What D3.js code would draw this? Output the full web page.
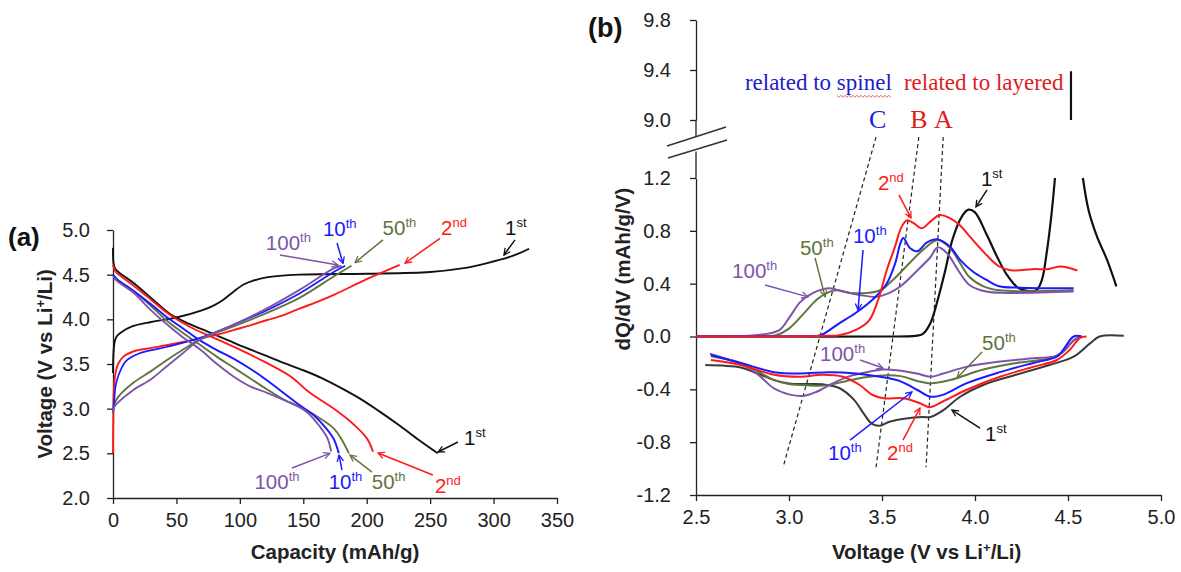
<!DOCTYPE html>
<html>
<head>
<meta charset="utf-8">
<script src="https://cdn.jsdelivr.net/npm/d3@7"></script>
<style>
  body { margin: 0; background: #fff; }
  svg { display: block; }
  text { font-family: "Liberation Sans", Arial, sans-serif; }
</style>
</head>
<body>
<div id="main"></div>
<script>
// ---------- data, panel (a): [capacity mAh/g, voltage V] ----------
var capTicks = [0, 50, 100, 150, 200, 250, 300, 350];
var voltTicks = [2.0, 2.5, 3.0, 3.5, 4.0, 4.5, 5.0];

var charge1 = [[0,3.4],[0.5,3.65],[1.5,3.76],[3,3.81],[6,3.85],[15,3.92],[30,3.97],[50,4.02],[70,4.10],[80,4.16],[87,4.22],[95,4.31],[103,4.39],[110,4.43],[121,4.47],[147,4.50],[200,4.51],[250,4.53],[275,4.57],[295,4.63],[315,4.71],[328,4.79]];
var discharge1 = [[0,4.8],[0.5,4.62],[2,4.56],[8,4.49],[16,4.41],[30,4.24],[45,4.06],[60,3.95],[75,3.86],[90,3.77],[105,3.68],[121,3.59],[135,3.51],[150,3.43],[165,3.34],[180,3.23],[195,3.11],[210,2.97],[225,2.82],[240,2.66],[256,2.5]];
var charge2 = [[0,2.5],[0.3,3.0],[0.8,3.25],[2,3.4],[4,3.5],[8,3.58],[16,3.64],[30,3.68],[42,3.71],[60,3.76],[80,3.82],[95,3.88],[110,3.94],[121,3.99],[135,4.05],[147,4.12],[160,4.19],[175,4.28],[200,4.45],[226,4.61]];
var discharge2 = [[0,4.61],[1,4.56],[3,4.52],[16,4.38],[30,4.22],[42,4.08],[60,3.92],[80,3.79],[100,3.66],[120,3.52],[140,3.36],[155,3.18],[175,2.99],[190,2.82],[200,2.67],[205,2.52]];
var charge10 = [[0,2.95],[1,3.1],[2,3.25],[4,3.36],[10,3.53],[21,3.62],[42,3.69],[68,3.79],[95,3.94],[121,4.10],[147,4.29],[174,4.53],[183,4.6]];
var discharge10 = [[0,4.5],[3,4.45],[16,4.32],[30,4.17],[42,4.03],[55,3.9],[68,3.77],[80,3.67],[95,3.56],[110,3.43],[121,3.32],[135,3.17],[145,3.06],[158,2.93],[168,2.78],[174,2.66],[178,2.5]];
var charge50 = [[0,2.95],[1,3.05],[4,3.13],[16,3.29],[30,3.42],[42,3.54],[55,3.66],[68,3.77],[82,3.85],[95,3.92],[121,4.07],[147,4.24],[174,4.48],[188,4.6]];
var discharge50 = [[0,4.5],[3,4.45],[16,4.32],[30,4.15],[42,3.99],[55,3.85],[68,3.72],[82,3.58],[95,3.46],[108,3.34],[121,3.22],[135,3.1],[147,3.02],[160,2.92],[174,2.78],[180,2.66],[186,2.5]];
var charge100 = [[0,2.95],[1,3.02],[4,3.07],[16,3.21],[30,3.33],[42,3.47],[55,3.62],[68,3.77],[82,3.86],[95,3.94],[121,4.12],[147,4.33],[174,4.57],[180,4.6]];
var discharge100 = [[0,4.48],[3,4.43],[16,4.3],[30,4.1],[42,3.95],[55,3.8],[68,3.67],[82,3.5],[95,3.36],[108,3.25],[121,3.18],[134,3.1],[145,3.03],[153,2.96],[163,2.8],[169,2.67],[172,2.52]];

// ---------- data, panel (b): [voltage V, dQ/dV] ----------
var vTicks = [2.5, 3.0, 3.5, 4.0, 4.5, 5.0];
var dqTicksLow = [-1.2, -0.8, -0.4, 0.0, 0.4, 0.8, 1.2];
var dqTicksTop = [9.0, 9.4, 9.8];

var dq1a = [[2.5,0],[3.0,0],[3.5,0],[3.68,0.005],[3.72,0.02],[3.76,0.1],[3.8,0.28],[3.84,0.5],[3.88,0.74],[3.93,0.91],[3.965,0.96],[4.0,0.94],[4.06,0.78],[4.12,0.6],[4.17,0.47],[4.23,0.37],[4.28,0.345],[4.33,0.35],[4.36,0.43],[4.385,0.63],[4.41,0.91],[4.43,1.2]];
var dq1b = [[4.58,1.2],[4.61,0.96],[4.655,0.76],[4.71,0.58],[4.76,0.38]];
var dq1Top = [[4.516,9.0],[4.516,9.39]];
var dq2 = [[2.5,0],[3.0,0],[3.2,0.005],[3.27,0.01],[3.36,0.05],[3.43,0.12],[3.48,0.28],[3.525,0.5],[3.57,0.68],[3.605,0.83],[3.635,0.88],[3.668,0.86],[3.715,0.82],[3.76,0.87],[3.81,0.92],[3.86,0.9],[3.92,0.84],[3.97,0.76],[4.06,0.62],[4.13,0.53],[4.2,0.5],[4.31,0.51],[4.39,0.51],[4.46,0.53],[4.55,0.5]];
var dq10 = [[2.5,0],[3.0,0],[3.1,0.002],[3.17,0.01],[3.27,0.1],[3.36,0.18],[3.45,0.28],[3.525,0.4],[3.57,0.55],[3.6,0.71],[3.615,0.745],[3.65,0.67],[3.69,0.645],[3.74,0.71],[3.8,0.735],[3.866,0.68],[3.92,0.58],[3.99,0.49],[4.06,0.43],[4.13,0.38],[4.24,0.37],[4.53,0.365]];
var dq50 = [[2.5,0],[2.8,0.002],[2.93,0.01],[3.0,0.06],[3.08,0.175],[3.15,0.28],[3.22,0.34],[3.26,0.35],[3.33,0.33],[3.42,0.33],[3.49,0.35],[3.56,0.43],[3.63,0.53],[3.72,0.655],[3.8,0.73],[3.866,0.67],[3.92,0.555],[3.97,0.45],[4.045,0.38],[4.13,0.35],[4.53,0.35]];
var dq100 = [[2.5,0],[2.75,0.003],[2.88,0.02],[2.95,0.05],[3.005,0.15],[3.06,0.26],[3.13,0.33],[3.22,0.365],[3.29,0.34],[3.38,0.315],[3.47,0.30],[3.54,0.33],[3.6,0.38],[3.69,0.5],[3.76,0.6],[3.8,0.675],[3.85,0.63],[3.91,0.5],[3.97,0.39],[4.06,0.34],[4.17,0.33],[4.53,0.34]];

var dqDis1 = [[2.55,-0.216],[2.74,-0.235],[2.83,-0.28],[2.92,-0.33],[3.0,-0.355],[3.09,-0.36],[3.18,-0.362],[3.27,-0.39],[3.35,-0.48],[3.4,-0.58],[3.445,-0.66],[3.49,-0.675],[3.54,-0.645],[3.63,-0.62],[3.72,-0.61],[3.76,-0.61],[3.83,-0.557],[3.92,-0.456],[4.045,-0.367],[4.22,-0.29],[4.4,-0.216],[4.53,-0.153],[4.62,-0.05],[4.67,0.0],[4.8,0.005]];
var dqDis2 = [[2.58,-0.178],[2.74,-0.216],[2.92,-0.29],[3.06,-0.305],[3.18,-0.29],[3.29,-0.305],[3.38,-0.367],[3.45,-0.443],[3.51,-0.468],[3.615,-0.468],[3.704,-0.505],[3.758,-0.535],[3.83,-0.49],[3.953,-0.405],[4.134,-0.305],[4.313,-0.23],[4.44,-0.178],[4.51,-0.10],[4.565,-0.01],[4.6,0.0]];
var dqDis10 = [[2.58,-0.14],[2.74,-0.2],[2.92,-0.27],[3.06,-0.28],[3.22,-0.27],[3.36,-0.28],[3.49,-0.305],[3.6,-0.34],[3.69,-0.405],[3.76,-0.456],[3.83,-0.44],[3.953,-0.355],[4.134,-0.27],[4.313,-0.2],[4.44,-0.153],[4.475,-0.1],[4.53,0.0],[4.575,0.0]];
var dqDis50 = [[2.58,-0.15],[2.74,-0.2],[2.84,-0.27],[2.92,-0.33],[3.0,-0.36],[3.1,-0.37],[3.2,-0.37],[3.3,-0.34],[3.4,-0.31],[3.5,-0.295],[3.6,-0.3],[3.7,-0.34],[3.76,-0.355],[3.866,-0.33],[4.045,-0.25],[4.224,-0.2],[4.4,-0.165],[4.47,-0.12],[4.53,-0.03],[4.57,0.0]];
var dqDis100 = [[2.575,-0.13],[2.683,-0.18],[2.773,-0.23],[2.844,-0.30],[2.916,-0.39],[3.005,-0.44],[3.077,-0.45],[3.146,-0.42],[3.235,-0.355],[3.327,-0.30],[3.418,-0.27],[3.507,-0.25],[3.58,-0.255],[3.687,-0.28],[3.76,-0.305],[3.83,-0.28],[3.953,-0.23],[4.134,-0.19],[4.313,-0.165],[4.44,-0.148],[4.484,-0.1],[4.53,-0.03],[4.565,0.0]];

// dashed guide lines C, B, A: [top point, bottom point]
var guideC = [[3.468,1.51],[2.968,-0.99]];
var guideB = [[3.698,1.51],[3.468,-0.99]];
var guideA = [[3.829,1.51],[3.737,-0.99]];

// cycle labels: [number, suffix, colour key, text pos, arrow from, arrow to]
var labelsA = [
  ["100","th","p",[120.5,4.776],[131.6,4.72],[177.4,4.608]],
  ["10","th","b",[165.5,4.93],[176.6,4.855],[181.3,4.625]],
  ["50","th","g",[212.5,4.944],[212.8,4.89],[190.8,4.635]],
  ["2","nd","r",[258.6,4.944],[257.8,4.905],[230.2,4.63]],
  ["1","st","k",[309,4.944],[316.9,4.89],[308.2,4.72]],
  ["100","th","p",[111.5,2.10],[141.1,2.336],[171,2.5]],
  ["10","th","b",[170,2.10],[180.5,2.313],[178.2,2.48]],
  ["50","th","g",[204,2.10],[204.2,2.29],[186.8,2.48]],
  ["2","nd","r",[253.8,2.056],[252.2,2.257],[208.9,2.504]],
  ["1","st","k",[276.7,2.593],[271.9,2.627],[256.2,2.515]]
];
var labelsB = [
  ["2","nd","r",[3.478,1.11],[3.591,1.072],[3.656,0.898]],
  ["1","st","k",[4.032,1.14],[4.065,1.11],[4.005,0.981]],
  ["10","th","b",[3.344,0.708],[3.398,0.655],[3.371,0.20]],
  ["50","th","g",[3.059,0.617],[3.14,0.595],[3.194,0.30]],
  ["100","th","p",[2.694,0.443],[2.871,0.39],[3.102,0.30]],
  ["100","th","p",[3.167,-0.186],[3.382,-0.178],[3.505,-0.239]],
  ["10","th","b",[3.21,-0.936],[3.328,-0.784],[3.661,-0.42]],
  ["2","nd","r",[3.527,-0.936],[3.613,-0.784],[3.704,-0.542]],
  ["50","th","g",[4.038,-0.102],[4.038,-0.117],[3.903,-0.314]],
  ["1","st","k",[4.054,-0.792],[4.027,-0.693],[3.876,-0.557]]
];

var colors = { k: "#111111", r: "#ff1a1a", b: "#1a1aff", g: "#62743f", p: "#7d55a8", k2: "#3a3a3a" };

// ---------- svg ----------
var svg = d3.select("#main").append("svg")
  .attr("width", 1181)
  .attr("height", 572);

var defs = svg.append("defs");
Object.keys(colors).forEach(function (k) {
  defs.append("marker")
    .attr("id", "arr-" + k)
    .attr("viewBox", "0 0 10 10")
    .attr("refX", 9).attr("refY", 5)
    .attr("markerWidth", 8).attr("markerHeight", 8)
    .attr("markerUnits", "userSpaceOnUse")
    .attr("orient", "auto")
    .append("path")
    .attr("d", "M1,1 L9,5 L1,9")
    .attr("fill", "none")
    .attr("stroke", colors[k])
    .attr("stroke-width", 1.6);
});

var xA = d3.scaleLinear().domain([0, 350]).range([113, 557]);
var yA = d3.scaleLinear().domain([2, 5]).range([498, 230]);
var xB = d3.scaleLinear().domain([2.5, 5]).range([696, 1161]);
var yB = d3.scaleLinear().domain([-1.2, 1.2]).range([495, 178]);
var yBtop = d3.scaleLinear().domain([9.0, 9.8]).range([120, 20]);

function styleAxis(g) {
  g.selectAll("path, line").attr("stroke", "#222").attr("stroke-width", 1.3);
  g.selectAll("text").attr("fill", "#222").style("font-size", "20px")
    .style("font-family", "'Liberation Sans', Arial, sans-serif");
}
var fmt1 = function (d) { return d.toFixed(1); };

// panel (a) axes
svg.append("g").attr("transform", "translate(0," + yA(2) + ")")
  .call(d3.axisBottom(xA).tickValues(capTicks).tickSize(6).tickSizeOuter(0).tickPadding(9))
  .call(styleAxis);
svg.append("g").attr("transform", "translate(" + xA(0) + ",0)")
  .call(d3.axisLeft(yA).tickValues(voltTicks).tickFormat(fmt1).tickSize(6).tickSizeOuter(0).tickPadding(17))
  .call(styleAxis);

// panel (b) axes
svg.append("g").attr("transform", "translate(0," + yB(-1.2) + ")")
  .call(d3.axisBottom(xB).tickValues(vTicks).tickFormat(fmt1).tickSize(6).tickSizeOuter(0).tickPadding(9))
  .call(styleAxis);
svg.append("g").attr("transform", "translate(" + xB(2.5) + ",0)")
  .call(d3.axisLeft(yB).tickValues(dqTicksLow).tickFormat(fmt1).tickSize(6).tickSizeOuter(0).tickPadding(19))
  .call(styleAxis);
svg.append("g").attr("transform", "translate(" + xB(2.5) + ",0)")
  .call(d3.axisLeft(yBtop).tickValues(dqTicksTop).tickFormat(fmt1).tickSize(6).tickSizeOuter(0).tickPadding(19))
  .call(styleAxis);
// axis line continues to the break
svg.append("line").attr("x1", xB(2.5)).attr("x2", xB(2.5))
  .attr("y1", yB(1.2)).attr("y2", yB(1.4)).attr("stroke", "#222").attr("stroke-width", 1.3);
svg.append("line").attr("x1", xB(2.5)).attr("x2", xB(2.5))
  .attr("y1", yBtop(9.0)).attr("y2", yBtop(8.87)).attr("stroke", "#222").attr("stroke-width", 1.3);
// break marks
var bx = xB(2.5), by = yBtop(9.0);
svg.append("line").attr("x1", bx - 29).attr("y1", by + 26).attr("x2", bx + 30).attr("y2", by + 7)
  .attr("stroke", "#333").attr("stroke-width", 1.5);
svg.append("line").attr("x1", bx - 28).attr("y1", by + 38).attr("x2", bx + 31).attr("y2", by + 20)
  .attr("stroke", "#333").attr("stroke-width", 1.5);

// axis titles
function bold(t) { return t.style("font-weight", "bold").style("font-size", "20.5px").attr("fill", "#222"); }
function liTitle(t, pre) {
  t.append("tspan").text(pre + "(V vs Li");
  t.append("tspan").attr("dy", -7).style("font-size", "13px").text("+");
  t.append("tspan").attr("dy", 7).text("/Li)");
}
var tA = bold(svg.append("text")).attr("text-anchor", "middle")
  .attr("transform", "translate(52," + yA(3.5) + ") rotate(-90)");
liTitle(tA, "Voltage ");
bold(svg.append("text")).attr("text-anchor", "middle")
  .attr("x", xA(175)).attr("y", 559).text("Capacity (mAh/g)");
bold(svg.append("text")).attr("text-anchor", "middle")
  .attr("transform", "translate(630," + yB(0.51) + ") rotate(-90)").text("dQ/dV (mAh/g/V)");
var tB = bold(svg.append("text")).attr("text-anchor", "middle")
  .attr("x", xB(3.74)).attr("y", 559);
liTitle(tB, "Voltage ");

svg.append("text").attr("x", 8).attr("y", 246).style("font-weight", "bold")
  .style("font-size", "26px").attr("fill", "#111").text("(a)");
svg.append("text").attr("x", 588).attr("y", 37).style("font-weight", "bold")
  .style("font-size", "27px").attr("fill", "#111").text("(b)");

// ---------- curves ----------
function drawLine(data, x, y, color, width) {
  var line = d3.line()
    .x(function (d) { return x(d[0]); })
    .y(function (d) { return y(d[1]); })
    .curve(d3.curveCatmullRom.alpha(0.5));
  svg.append("path")
    .attr("d", line(data))
    .attr("fill", "none")
    .attr("stroke", color)
    .attr("stroke-width", width)
    .attr("stroke-linejoin", "round");
}

// panel (a)
drawLine(charge1, xA, yA, colors.k, 1.9);
drawLine(discharge1, xA, yA, colors.k, 1.9);
drawLine(charge2, xA, yA, colors.r, 1.9);
drawLine(discharge2, xA, yA, colors.r, 1.9);
drawLine(charge50, xA, yA, colors.g, 1.9);
drawLine(discharge50, xA, yA, colors.g, 1.9);
drawLine(charge10, xA, yA, colors.b, 1.7);
drawLine(discharge10, xA, yA, colors.b, 1.9);
drawLine(charge100, xA, yA, colors.p, 1.9);
drawLine(discharge100, xA, yA, colors.p, 1.9);

// panel (b) dashed guides
[guideC, guideB, guideA].forEach(function (gd) {
  svg.append("line")
    .attr("x1", xB(gd[0][0])).attr("y1", yB(gd[0][1]))
    .attr("x2", xB(gd[1][0])).attr("y2", yB(gd[1][1]))
    .attr("stroke", "#222").attr("stroke-width", 1.2)
    .attr("stroke-dasharray", "4,3");
});

drawLine(dqDis1, xB, yB, colors.k2, 2);
drawLine(dqDis50, xB, yB, colors.g, 2);
drawLine(dqDis100, xB, yB, colors.p, 2);
drawLine(dqDis10, xB, yB, colors.b, 2);
drawLine(dqDis2, xB, yB, colors.r, 2);
drawLine(dq1a, xB, yB, colors.k, 2.2);
drawLine(dq1b, xB, yB, colors.k, 2.2);
drawLine(dq1Top, xB, yBtop, colors.k, 2.2);
drawLine(dq50, xB, yB, colors.g, 2);
drawLine(dq100, xB, yB, colors.p, 2);
drawLine(dq10, xB, yB, colors.b, 2);
drawLine(dq2, xB, yB, colors.r, 2);

// ---------- annotations ----------
function drawLabels(list, x, y) {
  list.forEach(function (l) {
    var c = colors[l[2]];
    svg.append("line")
      .attr("x1", x(l[4][0])).attr("y1", y(l[4][1]))
      .attr("x2", x(l[5][0])).attr("y2", y(l[5][1]))
      .attr("stroke", c).attr("stroke-width", 1.5)
      .attr("marker-end", "url(#arr-" + l[2] + ")");
    var t = svg.append("text").attr("x", x(l[3][0])).attr("y", y(l[3][1]))
      .attr("fill", c).style("font-size", "20.5px");
    t.append("tspan").text(l[0]);
    t.append("tspan").attr("dy", -8).style("font-size", "13px").text(l[1]);
  });
}
drawLabels(labelsA, xA, yA);
drawLabels(labelsB, xB, yB);

// region notes (serif, as in the original figure)
var serif = "'Liberation Serif', 'Times New Roman', serif";
var spinel = svg.append("text").attr("x", xB(2.763)).attr("y", yBtop(9.24))
  .style("font-family", serif).style("font-size", "23px").attr("fill", "#2020c8")
  .text("related to spinel");
svg.append("text").attr("x", xB(3.618)).attr("y", yBtop(9.24))
  .style("font-family", serif).style("font-size", "23px").attr("fill", "#e01c1c")
  .text("related to layered");
svg.append("text").attr("x", xB(3.43)).attr("y", yBtop(8.94))
  .style("font-family", serif).style("font-size", "26px").attr("fill", "#2020d0").text("C");
svg.append("text").attr("x", xB(3.652)).attr("y", yBtop(8.94))
  .style("font-family", serif).style("font-size", "26px").attr("fill", "#e01c1c").text("B");
svg.append("text").attr("x", xB(3.78)).attr("y", yBtop(8.94))
  .style("font-family", serif).style("font-size", "26px").attr("fill", "#e01c1c").text("A");

// spell-check squiggle under "spinel"
var sNode = spinel.node();
var s0 = sNode.getStartPositionOfChar(11).x, s1 = sNode.getEndPositionOfChar(16).x;
var sy = yBtop(9.24) + 6, zz = [];
for (var px = s0, i = 0; px <= s1; px += 2, i++) zz.push([px, sy + (i % 2 ? 1.2 : -0.6)]);
svg.append("path").attr("d", d3.line()(zz)).attr("fill", "none")
  .attr("stroke", "#e04040").attr("stroke-width", 0.8);
</script>
</body>
</html>
